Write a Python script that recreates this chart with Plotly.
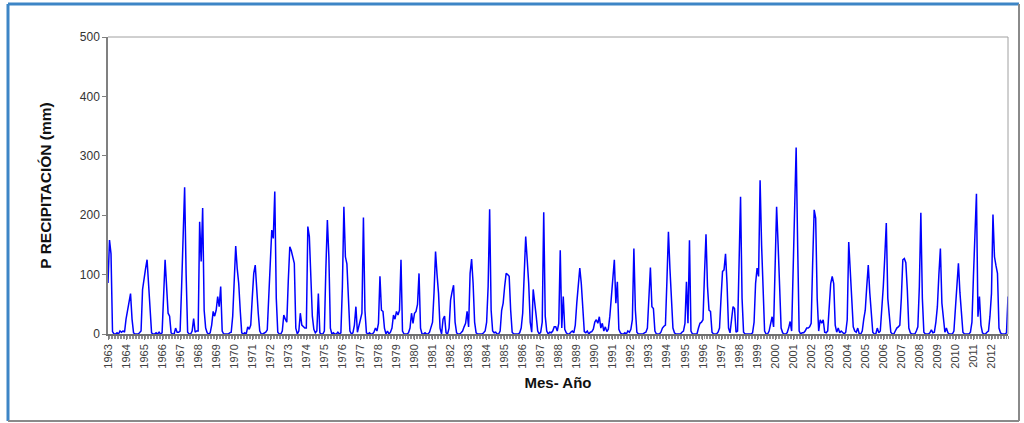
import plotly.graph_objects as go

# Monthly precipitation (mm), one list of 12 months per year
years = list(range(1963, 2013))
p1963 = [86, 158, 135, 4, 0, 0, 2, 0, 5, 3, 5, 3]
p1964 = [25, 40, 55, 68, 25, 2, 0, 0, 0, 2, 5, 75]
p1965 = [97, 110, 125, 85, 40, 2, 0, 0, 2, 0, 3, 0]
p1966 = [2, 60, 125, 80, 35, 30, 2, 0, 0, 10, 3, 3]
p1967 = [5, 80, 165, 247, 100, 3, 0, 0, 5, 26, 3, 5]
p1968 = [5, 189, 122, 212, 40, 10, 2, 0, 2, 15, 38, 30]
p1969 = [40, 63, 46, 80, 5, 0, 0, 0, 0, 2, 3, 30]
p1970 = [100, 148, 110, 85, 40, 2, 0, 2, 0, 12, 8, 15]
p1971 = [60, 102, 116, 70, 35, 5, 0, 0, 2, 3, 7, 60]
p1972 = [120, 175, 161, 240, 60, 3, 0, 0, 5, 32, 25, 20]
p1973 = [90, 147, 140, 130, 119, 10, 0, 5, 35, 15, 12, 10]
p1974 = [10, 181, 164, 80, 30, 8, 2, 5, 68, 2, 0, 0]
p1975 = [5, 110, 192, 130, 10, 0, 2, 0, 0, 3, 0, 2]
p1976 = [80, 214, 130, 118, 60, 5, 0, 2, 15, 46, 3, 15]
p1977 = [24, 35, 196, 40, 2, 0, 2, 0, 0, 3, 10, 5]
p1978 = [18, 97, 40, 38, 10, 0, 5, 0, 3, 10, 32, 25]
p1979 = [38, 32, 40, 125, 5, 0, 0, 0, 2, 10, 35, 18]
p1980 = [35, 38, 50, 102, 10, 0, 0, 2, 0, 0, 3, 12]
p1981 = [20, 70, 139, 100, 68, 10, 0, 25, 30, 2, 0, 10]
p1982 = [57, 71, 82, 20, 2, 0, 0, 2, 5, 12, 18, 38]
p1983 = [12, 102, 126, 85, 20, 2, 0, 0, 0, 0, 2, 5]
p1984 = [20, 80, 210, 40, 5, 2, 3, 0, 0, 5, 40, 52]
p1985 = [80, 102, 100, 97, 40, 3, 0, 0, 0, 0, 2, 10]
p1986 = [35, 100, 164, 125, 85, 20, 3, 75, 57, 30, 5, 0]
p1987 = [3, 20, 205, 30, 5, 0, 3, 2, 5, 12, 12, 5]
p1988 = [18, 141, 10, 63, 8, 2, 0, 0, 3, 5, 2, 15]
p1989 = [52, 80, 111, 85, 50, 4, 2, 5, 0, 3, 4, 8]
p1990 = [20, 24, 18, 29, 10, 18, 5, 12, 4, 8, 30, 63]
p1991 = [90, 125, 52, 88, 8, 2, 0, 0, 2, 0, 5, 3]
p1992 = [8, 24, 144, 40, 3, 0, 0, 0, 0, 2, 3, 10]
p1993 = [60, 112, 46, 43, 5, 0, 0, 0, 3, 10, 13, 15]
p1994 = [90, 172, 110, 50, 10, 2, 0, 0, 0, 0, 3, 5]
p1995 = [18, 88, 18, 158, 5, 0, 0, 0, 0, 10, 18, 20]
p1996 = [24, 100, 168, 80, 40, 38, 3, 0, 0, 0, 3, 10]
p1997 = [60, 105, 108, 135, 85, 10, 2, 20, 46, 43, 3, 5]
p1998 = [100, 231, 60, 3, 0, 0, 0, 0, 0, 2, 20, 85]
p1999 = [111, 97, 259, 150, 60, 5, 0, 0, 5, 18, 29, 12]
p2000 = [100, 214, 150, 91, 10, 2, 0, 0, 2, 10, 21, 5]
p2001 = [100, 200, 314, 150, 5, 0, 2, 2, 5, 10, 10, 12]
p2002 = [18, 120, 209, 195, 60, 5, 24, 18, 24, 3, 2, 5]
p2003 = [40, 85, 97, 85, 15, 3, 10, 2, 5, 2, 0, 3]
p2004 = [24, 155, 100, 60, 12, 5, 3, 10, 0, 0, 5, 25]
p2005 = [40, 80, 116, 70, 40, 3, 0, 0, 10, 2, 5, 40]
p2006 = [80, 130, 187, 60, 30, 3, 0, 0, 5, 10, 12, 15]
p2007 = [60, 125, 127, 120, 74, 10, 2, 0, 0, 0, 5, 12]
p2008 = [80, 204, 60, 3, 0, 0, 0, 2, 7, 2, 3, 20]
p2009 = [46, 100, 144, 52, 20, 3, 10, 2, 0, 0, 0, 5]
p2010 = [46, 80, 119, 70, 40, 3, 0, 0, 0, 0, 3, 20]
p2011 = [97, 160, 236, 29, 63, 15, 2, 0, 0, 3, 5, 30]
p2012 = [68, 201, 130, 115, 102, 10, 2, 0, 0, 0, 2, 63]

series_by_year = [
    p1963, p1964, p1965, p1966, p1967, p1968, p1969, p1970, p1971, p1972,
    p1973, p1974, p1975, p1976, p1977, p1978, p1979, p1980, p1981, p1982,
    p1983, p1984, p1985, p1986, p1987, p1988, p1989, p1990, p1991, p1992,
    p1993, p1994, p1995, p1996, p1997, p1998, p1999, p2000, p2001, p2002,
    p2003, p2004, p2005, p2006, p2007, p2008, p2009, p2010, p2011, p2012,
]
precip = [v for yr in series_by_year for v in yr]
months = list(range(len(precip)))
year_ticks = [12 * k for k in range(len(years))]
year_labels = [str(y) for y in years]
y_ticks = [0, 100, 200, 300, 400, 500]

W, H = 1024, 423
ML, MR, MT, MB = 108, 16, 37, 89
PW, PH = W - ML - MR, H - MT - MB


def px(x):
    return (x - ML) / PW


def py(y):
    return (H - MB - y) / PH


FONT = "Liberation Sans, Arial, sans-serif"

fig = go.Figure()
fig.add_trace(go.Scatter(
    x=months, y=precip, mode="lines",
    line=dict(color="#0000ff", width=1.5),
    showlegend=False, hoverinfo="skip",
))

fig.update_layout(
    width=W, height=H,
    margin=dict(l=ML, r=MR, t=MT, b=MB, pad=0),
    paper_bgcolor="white", plot_bgcolor="white",
    font=dict(family=FONT, color="#333333"),
    xaxis=dict(
        range=[0, len(precip) - 1],
        tickmode="array", tickvals=year_ticks, ticktext=year_labels,
        tickangle=-90, tickfont=dict(size=11, color="#404040"),
        ticks="outside", ticklen=4, tickcolor="#808080",
        minor=dict(dtick=1, tick0=0, ticks="outside", ticklen=3,
                   tickcolor="#909090", tickwidth=0.5),
        showgrid=False, zeroline=False,
        showline=True, linecolor="#707070", linewidth=1.5, mirror=False,
        title=dict(text="<b>Mes- Año</b>", font=dict(size=15, color="#111111"),
                   standoff=10),
    ),
    yaxis=dict(
        range=[0, 500], tickmode="array", tickvals=y_ticks,
        tickfont=dict(size=12, color="#333333"),
        ticks="outside", ticklen=4, tickcolor="#808080",
        showgrid=False, zeroline=False,
        showline=True, linecolor="#808080", linewidth=1.5, mirror=False,
        title=dict(text="<b>P RECIPITACIÓN (mm)</b>",
                   font=dict(size=15.5, color="#111111"), standoff=24),
    ),
)

# thin grey border on top and right of the plot area
fig.add_shape(type="line", xref="paper", yref="paper", x0=0, x1=1, y0=1, y1=1,
              line=dict(color="#a0a0a0", width=1))
fig.add_shape(type="line", xref="paper", yref="paper", x0=1, x1=1, y0=0, y1=1,
              line=dict(color="#a0a0a0", width=1))

# chart-area frame
fig.add_shape(type="line", xref="paper", yref="paper",
              x0=px(8), x1=px(1019), y0=py(4), y1=py(4),
              line=dict(color="#3d85c6", width=3))
fig.add_shape(type="line", xref="paper", yref="paper",
              x0=px(8), x1=px(8), y0=py(4), y1=py(421),
              line=dict(color="#3d85c6", width=3))
fig.add_shape(type="line", xref="paper", yref="paper",
              x0=px(1019), x1=px(1019), y0=py(4), y1=py(421),
              line=dict(color="#8a8a8a", width=2))
fig.add_shape(type="line", xref="paper", yref="paper",
              x0=px(8), x1=px(1019), y0=py(421), y1=py(421),
              line=dict(color="#8a8a8a", width=2))

fig.write_html("out.html")
